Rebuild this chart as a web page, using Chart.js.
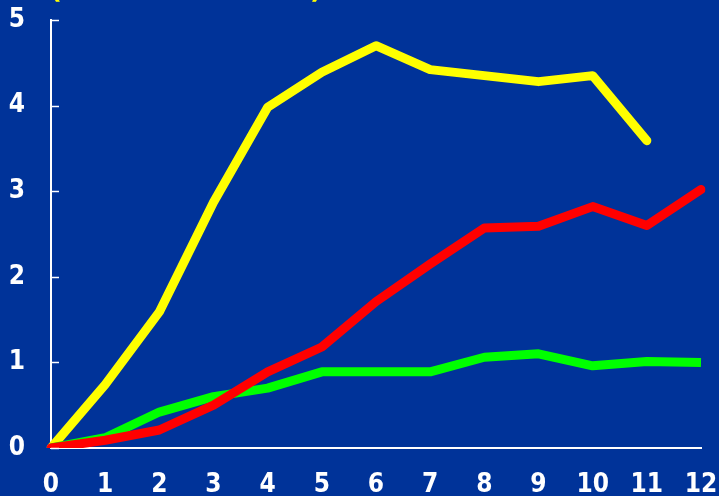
<!DOCTYPE html>
<html>
<head>
<meta charset="utf-8">
<script src="https://cdn.jsdelivr.net/npm/chart.js@4/dist/chart.umd.min.js"></script>
<style>
html,body{margin:0;padding:0;background:#003399;}
#wrap{width:719px;height:496px;position:relative;}
</style>
</head>
<body>
<div id="wrap"><canvas id="c" width="719" height="496"></canvas></div>
<script>
const categories = [0,1,2,3,4,5,6,7,8,9,10,11,12];
const yellowValues = [0,0.74,1.59,2.87,3.98,4.39,4.70,4.42,4.35,4.28,4.35,3.59,null];
const redValues = [0,0.09,0.21,0.50,0.89,1.18,1.71,2.15,2.57,2.59,2.82,2.60,3.02];
const greenValues = [0,0.12,0.42,0.60,0.70,0.89,0.89,0.89,1.06,1.10,0.96,1.01,1.00];
const yTicks = [0,1,2,3,4,5];
const titleParts = ["(", ")"];

const tickFont = { family: '"DejaVu Sans Condensed", "DejaVu Sans"', weight: 'bold', size: 26 };

const innerTicks = {
  id: 'innerTicks',
  afterDraw(chart) {
    const ctx = chart.ctx;
    const y = chart.scales.y;
    const x0 = y.right;
    ctx.save();
    ctx.strokeStyle = '#ffffff';
    ctx.lineWidth = 1.5;
    yTicks.forEach(v => {
      const py = Math.round(y.getPixelForValue(v)) + 0.5;
      ctx.beginPath();
      ctx.moveTo(x0, py);
      ctx.lineTo(x0 + 8, py);
      ctx.stroke();
    });
    ctx.fillStyle = '#ffff00';
    ctx.font = 'bold 26px "DejaVu Sans"';
    ctx.textBaseline = 'alphabetic';
    ctx.fillText(titleParts[0], 50, -2);
    ctx.fillText(titleParts[1], 310, -2);
    ctx.restore();
  }
};

const bgPlugin = {
  id: 'bg',
  beforeDraw(chart) {
    const ctx = chart.ctx;
    ctx.save();
    ctx.fillStyle = '#003399';
    ctx.fillRect(0, 0, chart.width, chart.height);
    ctx.restore();
  }
};

new Chart(document.getElementById('c'), {
  type: 'line',
  data: {
    labels: categories,
    datasets: [
      { data: redValues, borderColor: '#ff0000', borderWidth: 9 },
      { data: greenValues, borderColor: '#00ff00', borderWidth: 9, borderCapStyle: 'butt' },
      { data: yellowValues, borderColor: '#ffff00', borderWidth: 9 }
    ]
  },
  options: {
    responsive: false,
    animation: false,
    devicePixelRatio: 1,
    layout: { autoPadding: false, padding: { top: 20, right: 18, left: 0, bottom: 0 } },
    elements: {
      point: { radius: 0, hoverRadius: 0 },
      line: { tension: 0, capBezierPoints: false, borderCapStyle: 'round', borderJoinStyle: 'round' }
    },
    plugins: { legend: { display: false }, tooltip: { enabled: false } },
    scales: {
      x: {
        type: 'category',
        offset: false,
        grid: { display: false, drawTicks: false },
        border: { display: true, color: '#ffffff', width: 2 },
        ticks: { color: '#ffffff', font: tickFont, padding: 22, maxRotation: 0, autoSkip: false },
        afterFit(s) { s.height = 48; s.paddingLeft = 0; s.paddingRight = 0; s.paddingTop = 0; s.paddingBottom = 0; }
      },
      y: {
        min: 0, max: 5,
        grid: { display: false, drawTicks: false },
        border: { display: true, color: '#ffffff', width: 2 },
        ticks: { stepSize: 1, color: '#ffffff', font: tickFont, padding: 26 },
        afterFit(s) { s.width = 51; s.paddingLeft = 0; s.paddingRight = 0; s.paddingTop = 0; s.paddingBottom = 0; }
      }
    }
  },
  plugins: [bgPlugin, innerTicks]
});
</script>
</body>
</html>
